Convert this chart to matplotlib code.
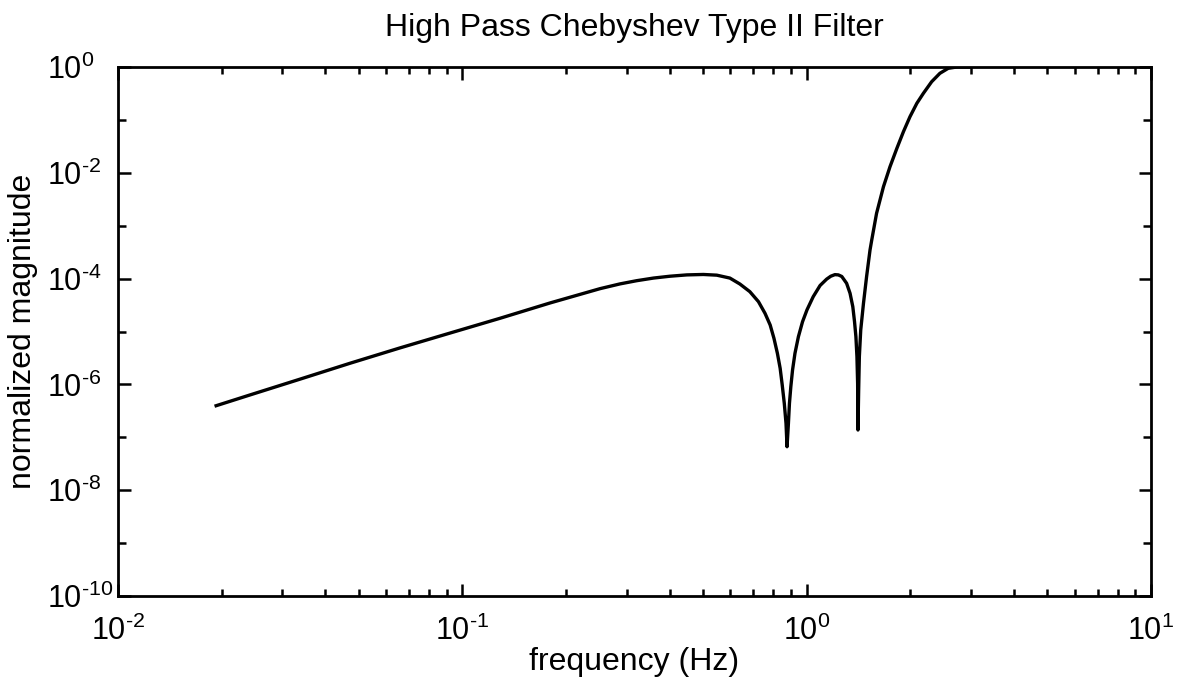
import numpy as np
import matplotlib
matplotlib.use('Agg')
import matplotlib.pyplot as plt
from matplotlib.ticker import FixedLocator, FuncFormatter, LogLocator, NullFormatter

plt.rcParams['font.family'] = ['Liberation Sans', 'DejaVu Sans']
plt.rcParams['mathtext.fontset'] = 'custom'
plt.rcParams['mathtext.rm'] = 'Liberation Sans'

# points, as log10 values
log_freq = [-1.715, -1.617, -1.471, -1.326, -1.181, -1.036, -0.891, -0.745,
            -0.600, -0.542, -0.494, -0.445, -0.397, -0.348, -0.300, -0.261,
            -0.223, -0.194, -0.165, -0.140, -0.121, -0.106, -0.095, -0.085,
            -0.077, -0.071, -0.065, -0.060, -0.057, -0.053, -0.050, -0.046,
            -0.041, -0.034, -0.024, -0.012, 0.001, 0.019, 0.039, 0.058,
            0.070, 0.082, 0.092, 0.102, 0.116, 0.126, 0.134, 0.139, 0.143,
            0.146, 0.148, 0.149, 0.151, 0.153, 0.157, 0.165, 0.174, 0.184,
            0.189, 0.203, 0.223, 0.242, 0.262, 0.281, 0.300, 0.320,
            0.339, 0.363, 0.387, 0.411, 0.436, 0.474]
log_mag = [-6.403, -6.200, -5.900, -5.600, -5.310, -5.030, -4.751, -4.460,
           -4.190, -4.100, -4.040, -3.990, -3.955, -3.930, -3.922, -3.935,
           -3.990, -4.102, -4.247, -4.436, -4.656, -4.877, -5.129, -5.413,
           -5.696, -6.011, -6.358, -6.736, -7.178, -6.736, -6.358, -6.043,
           -5.728, -5.413, -5.098, -4.815, -4.590, -4.342, -4.130, -4.010,
           -3.955, -3.925, -3.930, -3.960, -4.089, -4.278, -4.531, -4.815,
           -5.098, -5.476, -5.980, -6.862, -6.106, -5.476, -4.972, -4.467,
           -3.964, -3.459, -3.270, -2.766, -2.263, -1.885, -1.537, -1.223,
           -0.940, -0.686, -0.497, -0.278, -0.119, -0.025, 0.0, 0.0]

freq = 10.0 ** np.array(log_freq)
magnitude = 10.0 ** np.array(log_mag)

y_decades = list(range(-10, 1))


def power_label(v, pos):
    # hyphen instead of the wide math minus, as in the original
    return r'$\mathdefault{10^{\text{%d}}}$' % round(np.log10(v))


fig = plt.figure(figsize=(11.77, 6.88), dpi=100)
ax = fig.add_axes([118 / 1177, 1 - 596 / 688, (1151 - 118) / 1177, (596 - 67) / 688])

ax.loglog(freq, magnitude, color='black', linewidth=2.4, solid_joinstyle='round')
ax.set_xlim(1e-2, 1e1)
ax.set_ylim(1e-10, 1e0)

# even decades labelled, odd decades short unlabelled ticks
ax.yaxis.set_major_locator(FixedLocator([10.0 ** e for e in y_decades if e % 2 == 0]))
ax.yaxis.set_major_formatter(FuncFormatter(power_label))
ax.yaxis.set_minor_locator(FixedLocator([10.0 ** e for e in y_decades if e % 2 != 0]))
ax.yaxis.set_minor_formatter(NullFormatter())

ax.xaxis.set_major_locator(FixedLocator([1e-2, 1e-1, 1e0, 1e1]))
ax.xaxis.set_major_formatter(FuncFormatter(power_label))
ax.xaxis.set_minor_locator(LogLocator(base=10, subs=np.arange(2, 10)))
ax.xaxis.set_minor_formatter(NullFormatter())

ax.tick_params(which='both', direction='in', top=True, right=True, width=1.8, labelsize=22)
ax.tick_params(which='major', length=9)
ax.tick_params(which='minor', length=5)
ax.tick_params(axis='y', which='minor', length=6)
ax.tick_params(axis='x', pad=14)
# y labels start at a common left edge, like the original
ax.tick_params(axis='y', pad=51)
for t in ax.yaxis.get_major_ticks():
    t.label1.set_horizontalalignment('left')
for s in ax.spines.values():
    s.set_linewidth(2)

ax.set_xlabel('frequency (Hz)', fontsize=23, labelpad=0)
ax.set_ylabel('normalized magnitude', fontsize=23)
ax.yaxis.set_label_coords(-0.077, 0.5)
ax.set_title('High Pass Chebyshev Type II Filter', fontsize=23, pad=22)

fig.savefig('out.png', dpi=100)
